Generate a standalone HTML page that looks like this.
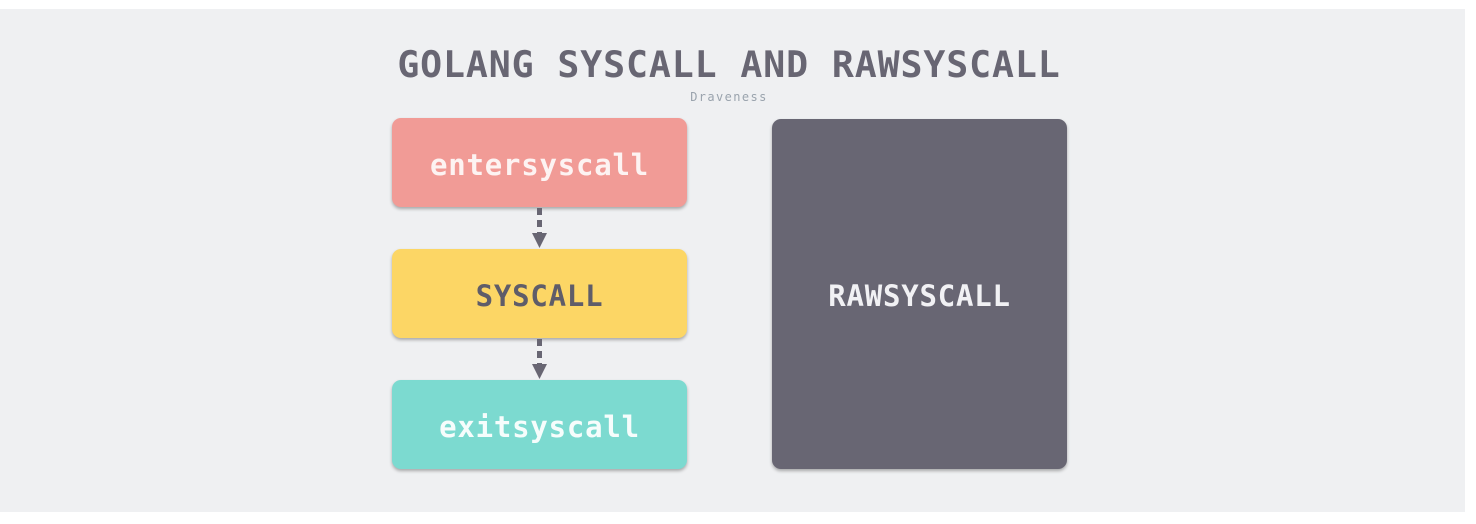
<!DOCTYPE html>
<html><head><style>
body{margin:0;width:1476px;height:524px;background:#fff;position:relative;overflow:hidden;font-family:"DejaVu Sans Mono","Liberation Mono",monospace}
.bg{position:absolute;left:0;top:9px;width:1465px;height:503px;background:#eff0f2}
.t{position:absolute;left:0;width:1458px;text-align:center;color:#686673;font-weight:bold}
.b{position:absolute;border-radius:9px;box-shadow:0 2px 3px rgba(0,0,0,.3);display:flex;align-items:center;justify-content:center;font-size:29px;font-weight:bold;padding-top:4px;box-sizing:border-box;letter-spacing:0.8px}
</style></head><body>
<div class="bg"></div>
<div class="t" style="top:41px;font-size:36.5px;line-height:48px;letter-spacing:0.9px">GOLANG SYSCALL AND RAWSYSCALL</div>
<div class="t" style="top:90px;font-size:12px;letter-spacing:1.4px;color:#9aa3ad;font-weight:normal">Draveness</div>
<div class="b" style="left:392px;top:118px;width:295px;height:89px;background:#f19b96;color:#fdf3f2">entersyscall</div>
<div class="b" style="left:392px;top:249px;width:295px;height:89px;background:#fcd665;color:#5f5d69">SYSCALL</div>
<div class="b" style="left:392px;top:380px;width:295px;height:89px;background:#7cdad0;color:#f6fdfc">exitsyscall</div>
<div class="b" style="left:772px;top:119px;width:295px;height:350px;background:#686673;color:#f1f1f4">RAWSYSCALL</div>
<svg style="position:absolute;left:0;top:0" width="1476" height="524">
<g stroke="#686673" stroke-width="5" stroke-dasharray="7,5"><line x1="539.5" y1="208" x2="539.5" y2="234"/><line x1="539.5" y1="339" x2="539.5" y2="365"/></g>
<g fill="#686673"><polygon points="532,233 547,233 539.5,248"/><polygon points="532,364 547,364 539.5,379"/></g>
</svg>
</body></html>
